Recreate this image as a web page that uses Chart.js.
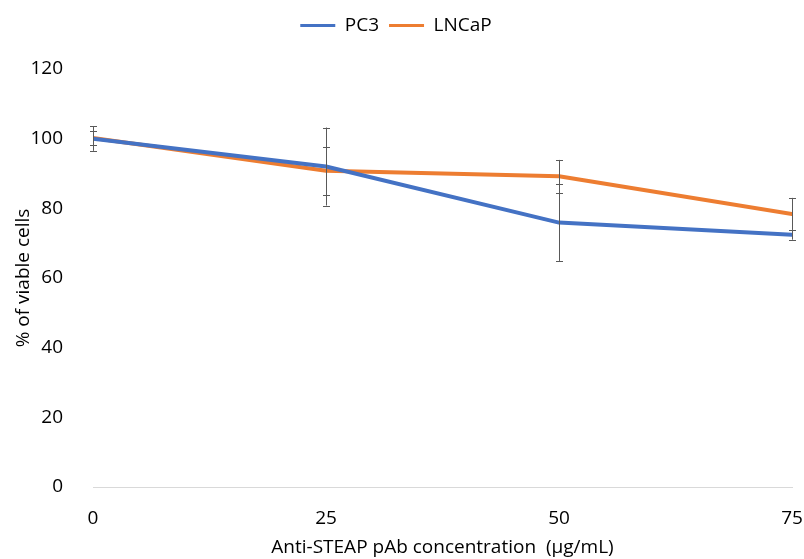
<!DOCTYPE html>
<html>
<head>
<meta charset="utf-8">
<script src="https://cdn.jsdelivr.net/npm/chart.js@4/dist/chart.umd.min.js"></script>
<style>
  html, body { margin: 0; padding: 0; background: #fff; }
  #wrap { width: 804px; height: 559px; }
</style>
</head>
<body>
<div id="wrap"><canvas id="myChart" width="804" height="559"></canvas></div>
<script>
// concentrations (µg/mL)
const doses = [0, 25, 50, 75];
const pc3 = [100, 92, 75.9, 72.4];
const pc3Err = [3.5, 11.2, 11, 1.4];
const lncap = [100.2, 90.8, 89.2, 78.4];
const lncapErr = [2, 6.9, 4.7, 4.6];
const yTicks = [0, 20, 40, 60, 80, 100, 120];

const toPoints = (vals) => doses.map((d, i) => ({ x: d, y: vals[i] }));

// draws the error bars with the chart's own scales
const errorBars = {
    id: 'errorBars',
    afterDatasetsDraw(chart) {
        const ctx = chart.ctx;
        const xs = chart.scales.x, ys = chart.scales.y;
        ctx.save();
        ctx.strokeStyle = '#595959';
        ctx.lineWidth = 1;
        chart.data.datasets.forEach(ds => {
            ds.data.forEach((p, i) => {
                const e = ds.errors[i];
                const px = Math.round(xs.getPixelForValue(p.x)) + 0.5;
                const top = ys.getPixelForValue(p.y + e);
                const bot = ys.getPixelForValue(p.y - e);
                ctx.beginPath();
                ctx.moveTo(px, top); ctx.lineTo(px, bot);
                ctx.moveTo(px - 3.5, Math.round(top) + 0.5); ctx.lineTo(px + 3.5, Math.round(top) + 0.5);
                ctx.moveTo(px - 3.5, Math.round(bot) + 0.5); ctx.lineTo(px + 3.5, Math.round(bot) + 0.5);
                ctx.stroke();
            });
        });
        ctx.restore();
    }
};

// give the legend a fixed height so the plot starts lower
const legendHeight = {
    id: 'legendHeight',
    afterInit(chart) {
        const lg = chart.legend;
        const fit = lg.fit;
        lg.fit = function () { fit.call(this); this.height = 63; };
    }
};

const font = { family: "'Open Sans', sans-serif", size: 19 };

new Chart(document.getElementById('myChart').getContext('2d'), {
    type: 'line',
    data: {
        datasets: [
            { label: 'PC3', data: toPoints(pc3), errors: pc3Err, borderColor: '#4472C4', backgroundColor: '#4472C4' },
            { label: 'LNCaP', data: toPoints(lncap), errors: lncapErr, borderColor: '#ED7D31', backgroundColor: '#ED7D31' }
        ]
    },
    options: {
        responsive: false,
        animation: false,
        layout: { padding: { left: 0, right: 12, top: 6, bottom: 0 } },
        elements: {
            line: { borderWidth: 4, tension: 0, borderCapStyle: 'round', borderJoinStyle: 'round' },
            point: { radius: 0, hoverRadius: 0 }
        },
        plugins: {
            tooltip: { enabled: false },
            legend: {
                position: 'top',
                labels: {
                    color: '#000',
                    font: font,
                    boxWidth: 35,
                    boxHeight: 3,
                    padding: 10,
                    generateLabels(chart) {
                        return chart.data.datasets.map((ds, i) => ({
                            text: ds.label,
                            fillStyle: ds.borderColor,
                            strokeStyle: ds.borderColor,
                            lineWidth: 0,
                            datasetIndex: i
                        }));
                    }
                }
            }
        },
        scales: {
            x: {
                type: 'linear',
                min: 0, max: 75,
                afterBuildTicks(s) { s.ticks = doses.map(v => ({ value: v })); },
                grid: { display: false },
                border: { display: true, color: '#D9D9D9', width: 1 },
                ticks: { color: '#000', font: font, padding: 12, maxRotation: 0 },
                title: { display: true, text: 'Anti-STEAP pAb concentration  (µg/mL)', color: '#000', font: font, padding: { top: 4, bottom: 0 } },
                afterFit(s) { s.height = 72; s.paddingLeft = 0; s.paddingRight = 0; }
            },
            y: {
                min: 0, max: 120,
                afterBuildTicks(s) { s.ticks = yTicks.map(v => ({ value: v })); },
                grid: { display: false },
                border: { display: false },
                ticks: { color: '#000', font: font, padding: 22 },
                title: { display: true, text: '% of viable cells', color: '#000', font: font, padding: { top: 12, bottom: 0 } },
                afterFit(s) { s.width = 93; s.paddingTop = 0; s.paddingBottom = 0; }
            }
        }
    },
    plugins: [errorBars, legendHeight]
});
</script>
</body>
</html>
